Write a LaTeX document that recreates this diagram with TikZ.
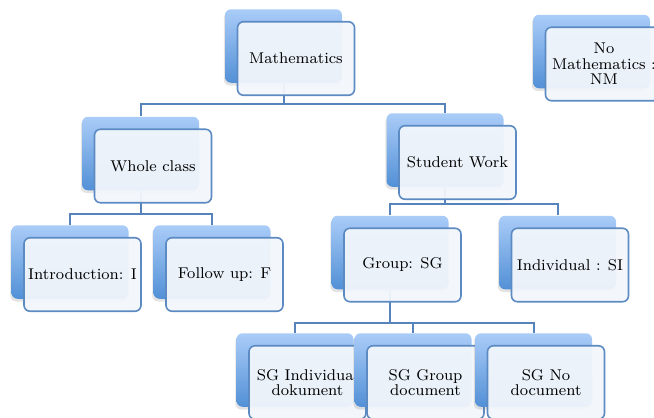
\documentclass[tikz,border=0pt]{standalone}
\usetikzlibrary{positioning, shadows, backgrounds}

\definecolor{backtop}{RGB}{170,204,248}
\definecolor{backbot}{RGB}{82,144,214}
\definecolor{frontfill}{RGB}{242,246,251}
\definecolor{edgeblue}{RGB}{92,138,194}
\definecolor{linkblue}{RGB}{86,132,186}

\begin{document}
\begin{tikzpicture}[
		x=0.5pt, y=-0.5pt,
		backbox/.style={rounded corners=3pt, minimum width=58.5pt, minimum height=36.75pt, inner sep=0pt,
			top color=backtop, bottom color=backbot,
			drop shadow={shadow xshift=-0.6pt, shadow yshift=-1.4pt, opacity=0.22}},
		frontbox/.style={rounded corners=3pt, minimum width=58.5pt, minimum height=36.75pt, inner sep=1pt,
			draw=edgeblue, line width=0.8pt, fill=frontfill, fill opacity=0.95, text opacity=1,
			align=center, font=\fontsize{7.8}{7.8}\selectfont, xshift=6.25pt, yshift=-6.25pt},
		link/.style={draw=linkblue, line width=1pt}
		]
		
		\useasboundingbox (0,0) rectangle (654,418);
		
		% --- top level ---
		\node[backbox] (math-b) at (283.5,46) {};
		\node[frontbox] (math) at (math-b) {Mathematics};
		
		\node[backbox] (nomath-b) at (591.5,51.5) {};
		\node[frontbox] (nomath) at (nomath-b) {No\\Mathematics :\\NM};
		
		% --- second level ---
		\node[backbox] (whole-b) at (140.5,153.5) {};
		\node[frontbox] (whole) at (whole-b) {Whole class};
		
		\node[backbox] (student-b) at (445,150) {};
		\node[frontbox] (student) at (student-b) {Student Work};
		
		% --- third level ---
		\node[backbox] (intro-b) at (70,262) {};
		\node[frontbox] (intro) at (intro-b) {Introduction: I};
		
		\node[backbox] (follow-b) at (212,262) {};
		\node[frontbox] (follow) at (follow-b) {Follow up: F};
		
		\node[backbox] (group-b) at (390,252.5) {};
		\node[frontbox] (group) at (group-b) {Group: SG};
		
		\node[backbox] (indiv-b) at (557.5,252.5) {};
		\node[frontbox] (indiv) at (indiv-b) {Individual : SI};
		
		% --- fourth level ---
		\node[backbox] (sgind-b) at (295,370) {};
		\node[frontbox] (sgind) at (sgind-b) {SG Individual\\dokument};
		
		\node[backbox] (sggroup-b) at (413,370) {};
		\node[frontbox] (sggroup) at (sggroup-b) {SG Group\\document};
		
		\node[backbox] (sgno-b) at (533.5,370) {};
		\node[frontbox] (sgno) at (sgno-b) {SG No\\document};
		
		% Connectors behind the boxes
		\begin{pgfonlayer}{background}
			\draw[link] (math-b.south) -- ++(0,21.25) coordinate (mbus) -| (whole-b.north)
			(mbus) -| (student-b.north);
			\draw[link] (whole-b.south) -- ++(0,23.75) coordinate (wbus) -| (intro-b.north)
			(wbus) -| (follow-b.north);
			\draw[link] (student-b.south) -- ++(0,17.25) coordinate (sbus) -| (group-b.north)
			(sbus) -| (indiv-b.north);
			\draw[link] (group-b.south) -- ++(0,33.75) coordinate (gbus) -| (sgind-b.north)
			(gbus) -| (sggroup-b.north)
			(gbus) -| (sgno-b.north);
		\end{pgfonlayer}
		
	\end{tikzpicture}
\end{document}
